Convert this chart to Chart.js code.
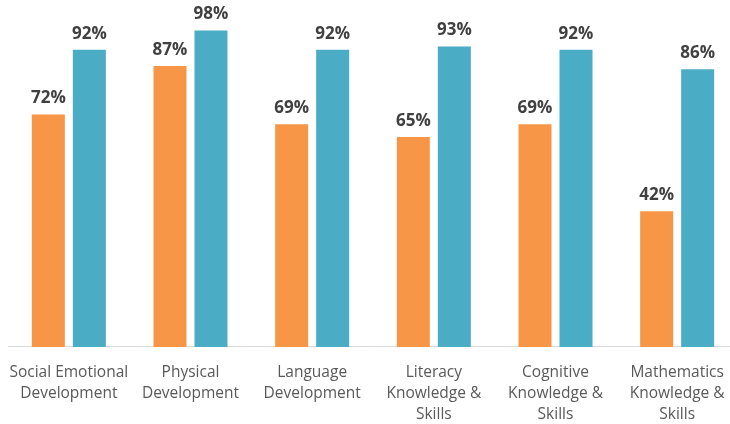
<!DOCTYPE html>
<html>
<head>
<meta charset="utf-8">
<script src="https://cdn.jsdelivr.net/npm/chart.js@4/dist/chart.umd.min.js"></script>
<style>
  html, body { margin: 0; padding: 0; background: #fff; overflow: hidden; }
  #wrap { width: 740px; height: 440px; position: relative; }
</style>
</head>
<body>
<div id="wrap"><canvas id="chart"></canvas></div>
<script>
  'use strict'

  // categories, one array per label line
  const categories = [
    ['Social Emotional', 'Development'],
    ['Physical', 'Development'],
    ['Language', 'Development'],
    ['Literacy', 'Knowledge &', 'Skills'],
    ['Cognitive', 'Knowledge &', 'Skills'],
    ['Mathematics', 'Knowledge &', 'Skills']
  ]
  const seriesOrange = [72, 87, 69, 65, 69, 42]
  const seriesTeal = [92, 98, 92, 93, 92, 86]

  // draws the value above every bar
  const valueLabels = {
    id: 'valueLabels',
    afterDatasetsDraw(chart) {
      const ctx = chart.ctx
      ctx.save()
      ctx.font = 'bold 17px "Open Sans"'
      ctx.fillStyle = '#404040'
      ctx.textAlign = 'center'
      ctx.textBaseline = 'middle'
      chart.data.datasets.forEach((ds, i) => {
        chart.getDatasetMeta(i).data.forEach((bar, j) => {
          ctx.fillText(ds.data[j] + '%', bar.x, bar.y - 16)
        })
      })
      ctx.restore()
    }
  }

  new Chart(document.getElementById('chart'), {
    type: 'bar',
    data: {
      labels: categories,
      datasets: [
        { data: seriesOrange, backgroundColor: '#F79646' },
        { data: seriesTeal, backgroundColor: '#4BACC6' }
      ]
    },
    options: {
      responsive: true,
      maintainAspectRatio: false,
      animation: false,
      barPercentage: 0.805,
      categoryPercentage: 0.674,
      layout: { padding: { top: 24, left: 8, right: 2, bottom: 0 } },
      plugins: { legend: { display: false }, tooltip: { enabled: false } },
      scales: {
        y: { display: false, min: 0, max: 100 },
        x: {
          grid: { display: false, drawTicks: false },
          border: { display: true, color: '#d9d9d9', width: 1 },
          // keep wide edge labels from pushing the plot inward
          afterFit(scale) {
            scale.paddingLeft = 0
            scale.paddingRight = 0
          },
          ticks: {
            color: '#595959',
            padding: 15,
            maxRotation: 0,
            autoSkip: false,
            font: { family: 'Open Sans', size: 15.5, lineHeight: 1.355 }
          }
        }
      }
    },
    plugins: [valueLabels]
  })
</script>
</body>
</html>
